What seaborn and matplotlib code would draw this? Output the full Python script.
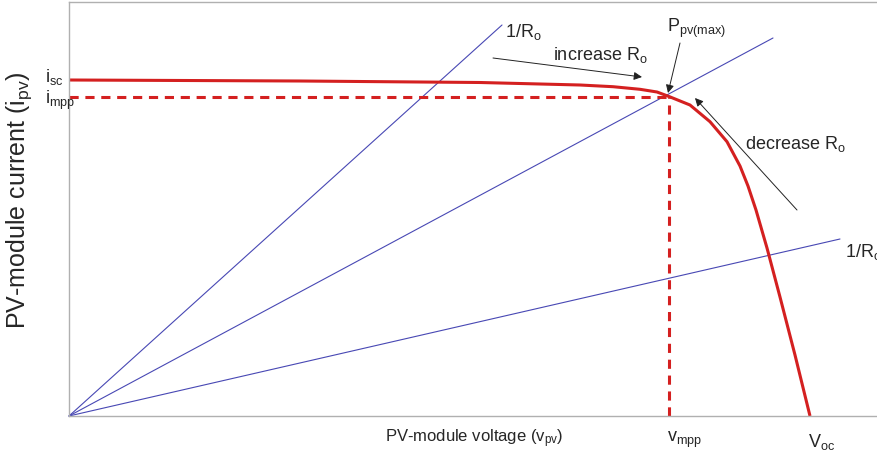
import numpy as np
import pandas as pd
import seaborn as sns
import matplotlib.pyplot as plt

# ------- Data (arbitrary units) -------
v_curve = [0.0, 23.1, 41.1, 51.1, 54.4, 57.1, 58.8, 60.0, 62.1, 64.1, 65.8, 67.1,
           67.9, 68.7, 69.8, 71.1, 72.6, 74.1]
i_curve = [33.6, 33.5, 33.35, 33.1, 32.93, 32.67, 32.4, 31.95, 31.1, 29.43, 27.43, 25.0,
           23.0, 20.6, 16.8, 11.9, 6.1, 0.0]

v_mpp = 60.0
i_mpp = 31.93
v_oc = 74.1
i_sc = 33.6

# load lines 1/Ro, end points (start at the origin)
load_end_v = [43.3, 70.4, 77.1]
load_end_i = [39.1, 37.8, 17.7]

# ------- Style -------
sns.set_style("white")
plt.rcParams["font.family"] = ["Liberation Sans", "DejaVu Sans"]
plt.rcParams["mathtext.fontset"] = "custom"
plt.rcParams["mathtext.rm"] = "Liberation Sans"
plt.rcParams["mathtext.it"] = "Liberation Sans"

red = "#d42020"
blue = "#4848b4"

fig = plt.figure(figsize=(8.78, 4.59), dpi=100)
ax = fig.add_axes([69 / 878, 43 / 459, 820 / 878, 414 / 459])

# load lines
for ve, ie in zip(load_end_v, load_end_i):
    df_l = pd.DataFrame({"v": [0, ve], "i": [0, ie]})
    sns.lineplot(data=df_l, x="v", y="i", color=blue, lw=0.8, ax=ax, clip_on=False)

# I-V curve
df = pd.DataFrame({"v": v_curve, "i": i_curve})
sns.lineplot(data=df, x="v", y="i", color=red, lw=2.2, sort=False, ax=ax, clip_on=False,
             solid_joinstyle="round", solid_capstyle="butt")

# MPP dashed guides
ax.plot([0, v_mpp], [i_mpp, i_mpp], color=red, lw=2.2, ls=(0, (3, 2.2)))
ax.plot([v_mpp, v_mpp], [0, i_mpp], color=red, lw=2.2, ls=(0, (3, 2.2)))

ax.set_xlim(0, 82)
ax.set_ylim(0, 41.4)
ax.set_xticks([])
ax.set_yticks([])
ax.set_xlabel("")
ax.set_ylabel("")
ax.spines["right"].set_visible(False)
for s in ["left", "bottom", "top"]:
    ax.spines[s].set_color("#b0b0b0")
    ax.spines[s].set_linewidth(1.0)

# axis titles
fig.text(474 / 878, 1 - 439 / 459, r"PV-module voltage ($\mathregular{v_{pv}}$)",
         fontsize=12, ha="center", va="center")
fig.text(19 / 878, 1 - 200 / 459, r"PV-module current ($\mathregular{i_{pv}}$)",
         fontsize=18, ha="center", va="center", rotation=90)

# axis marker labels
fs = 13
ax.text(-2.4, 33.9, r"$\mathregular{i_{sc}}$", fontsize=fs, ha="left", va="center", clip_on=False)
ax.text(-2.4, 31.6, r"$\mathregular{i_{mpp}}$", fontsize=fs, ha="left", va="center", clip_on=False)
ax.text(59.8, -2.4, r"$\mathregular{v_{mpp}}$", fontsize=fs, ha="left", va="center", clip_on=False)
ax.text(73.9, -2.6, r"$\mathregular{V_{oc}}$", fontsize=fs, ha="left", va="center", clip_on=False)

# annotations
ax.text(43.6, 38.4, r"$\mathregular{1/R_o}$", fontsize=fs, ha="left", va="center")
ax.text(77.6, 16.4, r"$\mathregular{1/R_o}$", fontsize=fs, ha="left", va="center", clip_on=False)
ax.text(59.8, 38.8, r"$\mathregular{P_{pv(max)}}$", fontsize=fs, ha="left", va="center")

arrow = dict(arrowstyle="-|>", color="#222222", lw=0.7, mutation_scale=12, shrinkA=0, shrinkB=0)
ax.annotate("", xy=(57.3, 33.9), xytext=(42.4, 35.8), arrowprops=arrow)
ax.text(48.4, 36.1, r"$\mathregular{increase\ R_o}$", fontsize=fs, ha="left", va="center")
ax.annotate("", xy=(59.9, 32.3), xytext=(61.1, 37.3), arrowprops=arrow)
ax.annotate("", xy=(62.6, 31.8), xytext=(72.8, 20.6), arrowprops=arrow)
ax.text(67.6, 27.2, r"$\mathregular{decrease\ R_o}$", fontsize=fs, ha="left", va="center")

fig.savefig("out.png", dpi=100)
